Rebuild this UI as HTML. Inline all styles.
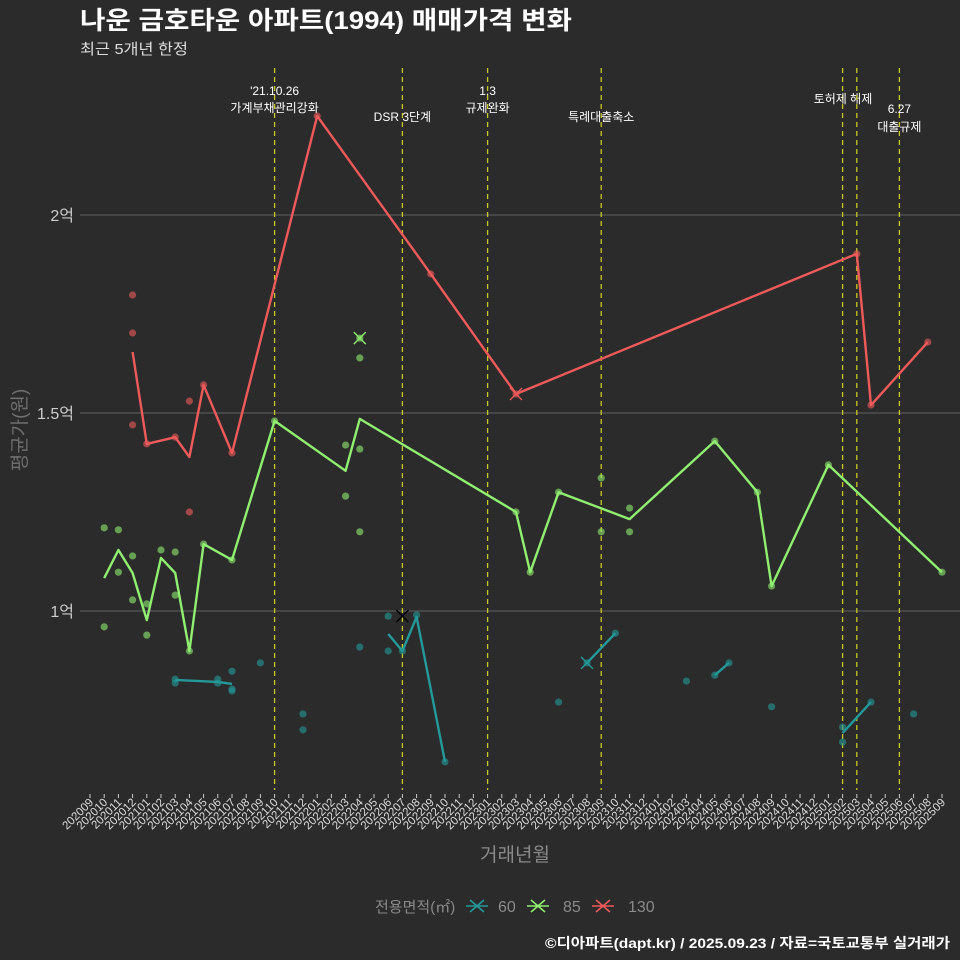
<!DOCTYPE html>
<html><head><meta charset="utf-8"><style>
html,body{margin:0;padding:0;background:#2b2b2b;}
svg{display:block;font-family:"Liberation Sans","Noto Sans CJK KR",sans-serif;}
</style></head><body>
<svg id="chart" width="960" height="960" viewBox="0 0 960 960">
<rect x="0" y="0" width="960" height="960" fill="#2b2b2b"/>
<text x="80" y="29" fill="#ffffff" font-size="25" font-weight="bold" textLength="492" lengthAdjust="spacingAndGlyphs">나운 금호타운 아파트(1994) 매매가격 변화</text>
<text x="80" y="54" fill="#dddddd" font-size="15" textLength="108" lengthAdjust="spacingAndGlyphs">최근 5개년 한정</text>
<g id="grid"></g><g id="events"></g><g id="series"></g><g id="xaxis"></g>
<text x="515" y="861" fill="#8a8a8a" font-size="19" text-anchor="middle">거래년월</text>
<text transform="translate(26,430) rotate(-90)" fill="#6e6e6e" font-size="19" text-anchor="middle">평균가(원)</text>
<g>
<text x="375" y="912" fill="#8a8a8a" font-size="15">전용면적(㎡)</text>
<g><path d="M466 906h22M470 900l14 12M470 912l14-12" stroke="#23999a" stroke-width="1.6"/><text x="498" y="912" fill="#8a8a8a" font-size="16">60</text></g>
<g><path d="M527 906h22M531 900l14 12M531 912l14-12" stroke="#90ee70" stroke-width="1.6"/><text x="563" y="912" fill="#8a8a8a" font-size="16">85</text></g>
<g><path d="M592 906h22M596 900l14 12M596 912l14-12" stroke="#ee5a5a" stroke-width="1.6"/><text x="628" y="912" fill="#8a8a8a" font-size="16">130</text></g>
</g>
<text x="545" y="948" fill="#ffffff" font-size="14" font-weight="bold" textLength="405" lengthAdjust="spacingAndGlyphs">©디아파트(dapt.kr) / 2025.09.23 / 자료=국토교통부 실거래가</text>
</svg>
<script>
const months = [];
for (let y = 2020, m = 9; months.length < 61; ) { months.push(String(y) + String(m).padStart(2, '0')); m++; if (m > 12) { m = 1; y++; } }
const yTicks = [1, 1.5, 2];
const yTickLabels = ['1억', '1.5억', '2억'];
const eventIdx = [13, 22, 28, 36, 53, 54, 57];
const eventLabels = [["'21.10.26", '가계부채관리강화'], ['', 'DSR 3단계'], ['1.3', '규제완화'], ['', '특례대출축소'], ['토허제 해제', ''], ['', ''], ['6.27', '대출규제']];
// red 130
const s130LineIdx = [3, 4, 6, 7, 8, 10, 16, 24, 30, 54, 55, 59];
const s130LineVal = [1.654, 1.422, 1.439, 1.389, 1.571, 1.399, 2.25, 1.851, 1.548, 1.902, 1.520, 1.679];
const s130PtIdx = [3, 3, 3, 4, 6, 7, 7, 8, 10, 16, 24, 30, 54, 55, 59];
const s130PtVal = [1.798, 1.702, 1.470, 1.422, 1.439, 1.530, 1.250, 1.571, 1.399, 2.25, 1.851, 1.548, 1.902, 1.520, 1.679];
// green 85
const s85LineIdx = [1, 2, 3, 4, 5, 6, 7, 8, 10, 13, 18, 19, 30, 31, 33, 38, 44, 47, 48, 52, 60];
const s85LineVal = [1.083, 1.154, 1.096, 0.977, 1.134, 1.096, 0.899, 1.169, 1.129, 1.480, 1.354, 1.485, 1.25, 1.098, 1.30, 1.232, 1.429, 1.30, 1.063, 1.369, 1.098];
const s85PtIdx = [1, 1, 2, 2, 3, 3, 4, 4, 5, 6, 6, 7, 8, 10, 13, 18, 18, 19, 19, 19, 19, 30, 31, 33, 36, 36, 38, 38, 44, 47, 48, 52, 60];
const s85PtVal = [1.21, 0.96, 1.205, 1.098, 1.139, 1.028, 1.018, 0.939, 1.154, 1.149, 1.040, 0.899, 1.169, 1.129, 1.48, 1.419, 1.29, 1.689, 1.639, 1.409, 1.2, 1.25, 1.098, 1.30, 1.336, 1.2, 1.26, 1.2, 1.429, 1.30, 1.063, 1.369, 1.098];
// teal 60 (null = break)
const s60LineIdx = [6, 9, 10, null, 21, 22, 23, 25, null, 35, 37, null, 44, 45, null, 53, 55];
const s60LineVal = [0.826, 0.821, 0.816, null, 0.942, 0.899, 0.985, 0.619, null, 0.869, 0.944, null, 0.838, 0.869, null, 0.692, 0.770];
const s60PtIdx = [6, 6, 9, 9, 10, 10, 10, 12, 15, 15, 19, 21, 21, 22, 23, 25, 33, 35, 37, 42, 44, 45, 48, 53, 53, 55, 58];
const s60PtVal = [0.828, 0.818, 0.828, 0.818, 0.848, 0.803, 0.798, 0.869, 0.74, 0.70, 0.909, 0.987, 0.899, 0.899, 0.99, 0.619, 0.770, 0.869, 0.944, 0.823, 0.838, 0.869, 0.758, 0.707, 0.669, 0.770, 0.74];
// marker X (max/min)
const markIdx = [30, 19, 35, 22];
const markVal = [1.548, 1.689, 0.869, 0.987];
const markColor = ['#ee5a5a', '#90ee70', '#23999a', '#000000'];

const NS = 'http://www.w3.org/2000/svg';
const xS = i => 90 + i * 14.2;
const yS = v => 611 - (v - 1) * 396;
function mk(tag, attrs, parent) { const e = document.createElementNS(NS, tag); for (const k in attrs) e.setAttribute(k, attrs[k]); parent.appendChild(e); return e; }
const grid = document.getElementById('grid'), ev = document.getElementById('events'), ser = document.getElementById('series'), xa = document.getElementById('xaxis');
yTicks.forEach((t, k) => {
  const l = mk('line', { x1: 80, x2: 960, y1: yS(t), y2: yS(t), stroke: '#626262', 'stroke-width': 1 }, grid);
  
  
  const tx = mk('text', { x: 74, y: yS(t) + 6, fill: '#cccccc', 'font-size': 16, 'text-anchor': 'end' }, grid);
  tx.textContent = yTickLabels[k];
  
  
});
eventIdx.forEach((i, k) => {
  const l = mk('line', { x1: xS(i), x2: xS(i), y1: 68, y2: 790, stroke: '#c8c81e', 'stroke-width': 1.3, 'stroke-dasharray': '5,4' }, ev);
  
  
  const [a, b] = eventLabels[k];
  let ya = 95, yb = 112;
  if (k === 1 || k === 3) yb = 121;
  if (k === 4) ya = 103;
  if (k === 6) { ya = 113; yb = 131; }
  const cx = k === 4 ? 843 : xS(i);
  if (a) { const t = mk('text', { x: cx, y: ya, fill: '#ffffff', 'font-size': 12, 'text-anchor': 'middle' }, ev); t.textContent = a;   }
  if (b) { const t = mk('text', { x: cx, y: yb, fill: '#ffffff', 'font-size': 12, 'text-anchor': 'middle' }, ev); t.textContent = b;   }
});
months.forEach((m, i) => {
  mk('line', { x1: xS(i), x2: xS(i), y1: 794, y2: 798, stroke: '#cccccc', 'stroke-width': 1 }, xa);
  const t = mk('text', { transform: `translate(${xS(i) + 4},803) rotate(-45)`, fill: '#dddddd', 'font-size': 11.5, 'text-anchor': 'end' }, xa);
  t.textContent = m;
  
  
});
function drawSeries(name, color, lIdx, lVal, pIdx, pVal) {
  const g = mk('g', {}, ser);
  
  
  pIdx.forEach((i, k) => {
    const c = mk('circle', { cx: xS(i), cy: yS(pVal[k]), r: 3.6, fill: color, 'fill-opacity': 0.6 }, g);
    
    
  });
  let d = '', pen = false;
  lIdx.forEach((i, k) => {
    if (i === null) { pen = false; return; }
    d += (pen ? 'L' : 'M') + xS(i).toFixed(1) + ' ' + yS(lVal[k]).toFixed(1);
    pen = true;
  });
  const p = mk('path', { d: d, fill: 'none', stroke: color, 'stroke-width': 2.4, 'stroke-linejoin': 'round' }, g);
  
  
}
drawSeries('60', '#23999a', s60LineIdx, s60LineVal, s60PtIdx, s60PtVal);
drawSeries('85', '#90ee70', s85LineIdx, s85LineVal, s85PtIdx, s85PtVal);
drawSeries('130', '#ee5a5a', s130LineIdx, s130LineVal, s130PtIdx, s130PtVal);
markIdx.forEach((i, k) => {
  const x = xS(i), y = yS(markVal[k]);
  const p = mk('path', { d: `M${x - 6} ${y - 6}L${x + 6} ${y + 6}M${x - 6} ${y + 6}L${x + 6} ${y - 6}`, stroke: markColor[k], 'stroke-width': 1.4 }, ser);
  
  
});
</script>
</body></html>
